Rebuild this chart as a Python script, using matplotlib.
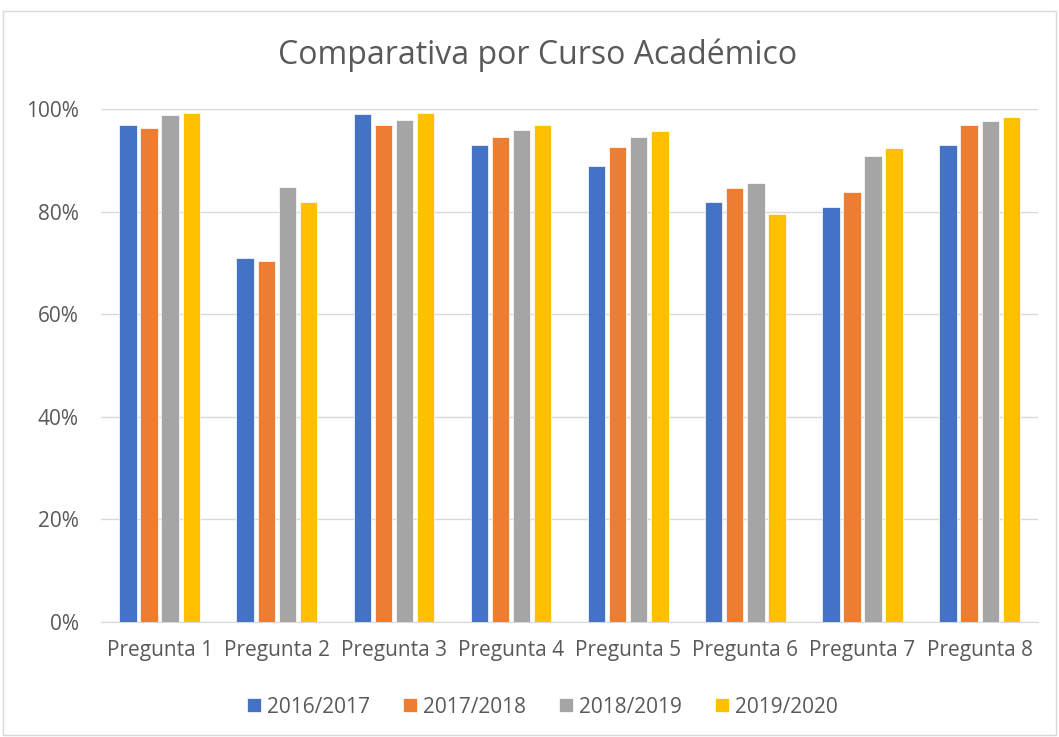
import matplotlib.pyplot as plt
import numpy as np
from matplotlib.ticker import PercentFormatter
from matplotlib.patches import Rectangle

categories = ['Pregunta 1', 'Pregunta 2', 'Pregunta 3', 'Pregunta 4',
              'Pregunta 5', 'Pregunta 6', 'Pregunta 7', 'Pregunta 8']
years = ['2016/2017', '2017/2018', '2018/2019', '2019/2020']
v_2016 = [0.970, 0.710, 0.990, 0.930, 0.890, 0.820, 0.810, 0.930]
v_2017 = [0.964, 0.705, 0.970, 0.946, 0.927, 0.846, 0.838, 0.970]
v_2018 = [0.989, 0.848, 0.979, 0.960, 0.945, 0.857, 0.908, 0.977]
v_2019 = [0.992, 0.820, 0.992, 0.969, 0.958, 0.795, 0.925, 0.985]
series = [v_2016, v_2017, v_2018, v_2019]
colors = ['#4472C4', '#ED7D31', '#A5A5A5', '#FFC000']

plt.rcParams['font.family'] = ['Open Sans', 'DejaVu Sans']
text_color = '#595959'

fig = plt.figure(figsize=(10.59, 7.37), dpi=100)
# chart border like the spreadsheet chart area
fig.patches.append(Rectangle((0.003, 0.003), 0.994, 0.982, transform=fig.transFigure,
                             fill=False, edgecolor='#D9D9D9', linewidth=1))
ax = fig.add_axes([0.0954, 0.156, 0.885, 0.6957])

x = np.arange(len(categories))
pitch = 0.18
w = 0.148
for i, (vals, col, lab) in enumerate(zip(series, colors, years)):
    ax.bar(x + (i - 1.5) * pitch, vals, width=w, color=col, edgecolor='white',
           linewidth=0.5, label=lab, zorder=3)

ax.set_xlim(-0.5, len(categories) - 0.5)
ax.set_ylim(0, 1.0)
ax.set_yticks(np.arange(0, 1.01, 0.2))
ax.yaxis.set_major_formatter(PercentFormatter(1, decimals=0))
ax.grid(axis='y', color='#D9D9D9', linewidth=1, zorder=0)
for s in ['top', 'right', 'left']:
    ax.spines[s].set_visible(False)
ax.spines['bottom'].set_color('#D9D9D9')
ax.set_xticks(x)
ax.set_xticklabels(categories)
ax.tick_params(axis='both', length=0, labelsize=15, colors=text_color)
ax.tick_params(axis='x', pad=13)
ax.tick_params(axis='y', pad=16)

fig.text(0.508, 0.925, 'Comparativa por Curso Académico', ha='center', va='center',
         fontsize=23, color=text_color)

leg = ax.legend(loc='center', bbox_to_anchor=(0.471, -0.166), ncol=4, frameon=False,
                fontsize=15, handlelength=0.65, handleheight=0.65, handletextpad=0.3,
                columnspacing=1.6)
for t in leg.get_texts():
    t.set_color(text_color)

plt.savefig('out.png', dpi=100)
